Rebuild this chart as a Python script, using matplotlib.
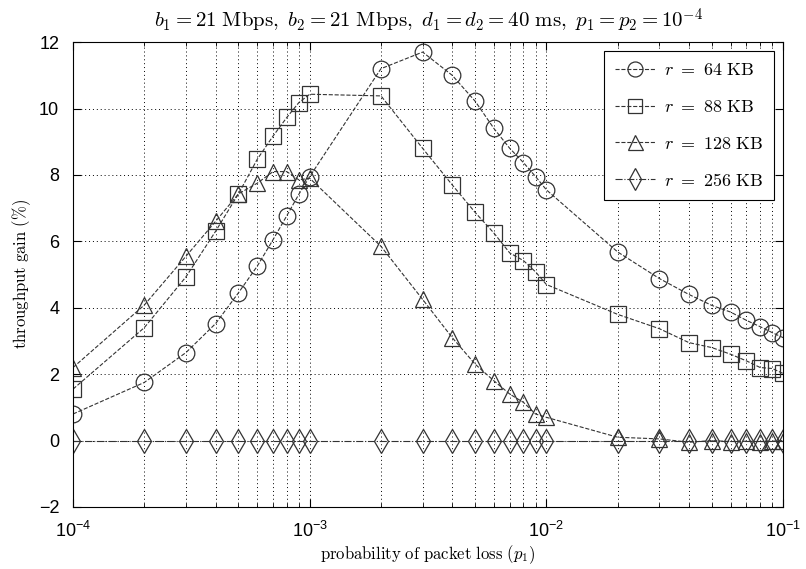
import numpy as np
import matplotlib
matplotlib.use("Agg")
import matplotlib.pyplot as plt
from matplotlib.ticker import LogLocator, NullFormatter

plt.rcParams['mathtext.fontset'] = 'cm'
plt.rcParams['font.family'] = ['Liberation Sans', 'DejaVu Sans']

# packet loss probability p1
p1 = [1e-4, 2e-4, 3e-4, 4e-4, 5e-4, 6e-4, 7e-4, 8e-4, 9e-4,
      1e-3, 2e-3, 3e-3, 4e-3, 5e-3, 6e-3, 7e-3, 8e-3, 9e-3,
      1e-2, 2e-2, 3e-2, 4e-2, 5e-2, 6e-2, 7e-2, 8e-2, 9e-2, 1e-1]

gain_64 = [0.8, 1.75, 2.65, 3.52, 4.45, 5.25, 6.05, 6.77, 7.42,
           7.95, 11.2, 11.7, 11.0, 10.22, 9.4, 8.8, 8.37, 7.95,
           7.55, 5.68, 4.88, 4.4, 4.07, 3.87, 3.62, 3.43, 3.25, 3.1]
gain_88 = [1.55, 3.4, 4.93, 6.3, 7.43, 8.47, 9.17, 9.73, 10.18,
           10.43, 10.38, 8.8, 7.7, 6.87, 6.25, 5.65, 5.42, 5.08,
           4.7, 3.8, 3.37, 2.95, 2.8, 2.6, 2.4, 2.2, 2.17, 2.02]
gain_128 = [2.2, 4.08, 5.55, 6.6, 7.43, 7.75, 8.1, 8.1, 7.85,
            7.9, 5.85, 4.25, 3.1, 2.3, 1.8, 1.4, 1.15, 0.8,
            0.7, 0.1, 0.05, -0.05, 0.0, -0.03, -0.02, -0.03, -0.02, 0.0]
gain_256 = [0.0] * len(p1)

labels = [r'$r\ =\ 64\ \mathrm{KB}$', r'$r\ =\ 88\ \mathrm{KB}$',
          r'$r\ =\ 128\ \mathrm{KB}$', r'$r\ =\ 256\ \mathrm{KB}$']
markers = ['o', 's', '^', 'd']
styles = ['--', '--', '--', '-.']

fig = plt.figure(figsize=(8.06, 5.69), dpi=100)
ax = fig.add_axes([0.0906, 0.109, 0.881, 0.817])

for y, lab, m, ls in zip([gain_64, gain_88, gain_128, gain_256], labels, markers, styles):
    ax.plot(p1, y, linestyle=ls, color='#333333', linewidth=0.8,
            marker=m, markersize=12 if m != 's' else 11, markerfacecolor='none',
            markeredgecolor='#333333', markeredgewidth=0.9, label=lab)

ax.set_xscale('log')
ax.set_xlim(1e-4, 1e-1)
ax.set_ylim(-2, 12)
ax.set_yticks(np.arange(-2, 13, 2))
ax.xaxis.set_major_locator(LogLocator(base=10, numticks=10))
ax.xaxis.set_minor_locator(LogLocator(base=10, subs=np.arange(2, 10), numticks=20))
ax.xaxis.set_minor_formatter(NullFormatter())

grid_style = dict(linestyle=(0, (1, 3)), color='black', linewidth=0.7)
ax.grid(True, which='major', **grid_style)
ax.grid(True, which='minor', axis='x', **grid_style)
ax.tick_params(which='both', direction='in', top=True, right=True, labelsize=13)
ax.tick_params(which='major', length=6)
ax.tick_params(which='minor', length=3)
ax.tick_params(axis='x', which='major', pad=10)
ax.tick_params(axis='y', which='major', pad=10)

ax.set_title(r'$b_1 = 21\ \mathrm{Mbps},\ b_2 = 21\ \mathrm{Mbps},\ d_1 = d_2 = 40\ \mathrm{ms},\ p_1 = p_2 = 10^{-4}$',
             fontsize=15, pad=10)
ax.set_xlabel(r'$\mathrm{probability\ of\ packet\ loss}\ (p_1)$', fontsize=12, labelpad=2)
ax.set_ylabel(r'$\mathrm{throughput\ gain\ (\%)}$', fontsize=12, labelpad=4)

leg = ax.legend(loc='upper right', fontsize=13, handlelength=2.2, markerscale=0.9,
                fancybox=False, framealpha=1, edgecolor='black', borderpad=0.6,
                labelspacing=1.1, handletextpad=0.5)
leg.get_frame().set_linewidth(0.8)

fig.savefig('out.png', dpi=100)
